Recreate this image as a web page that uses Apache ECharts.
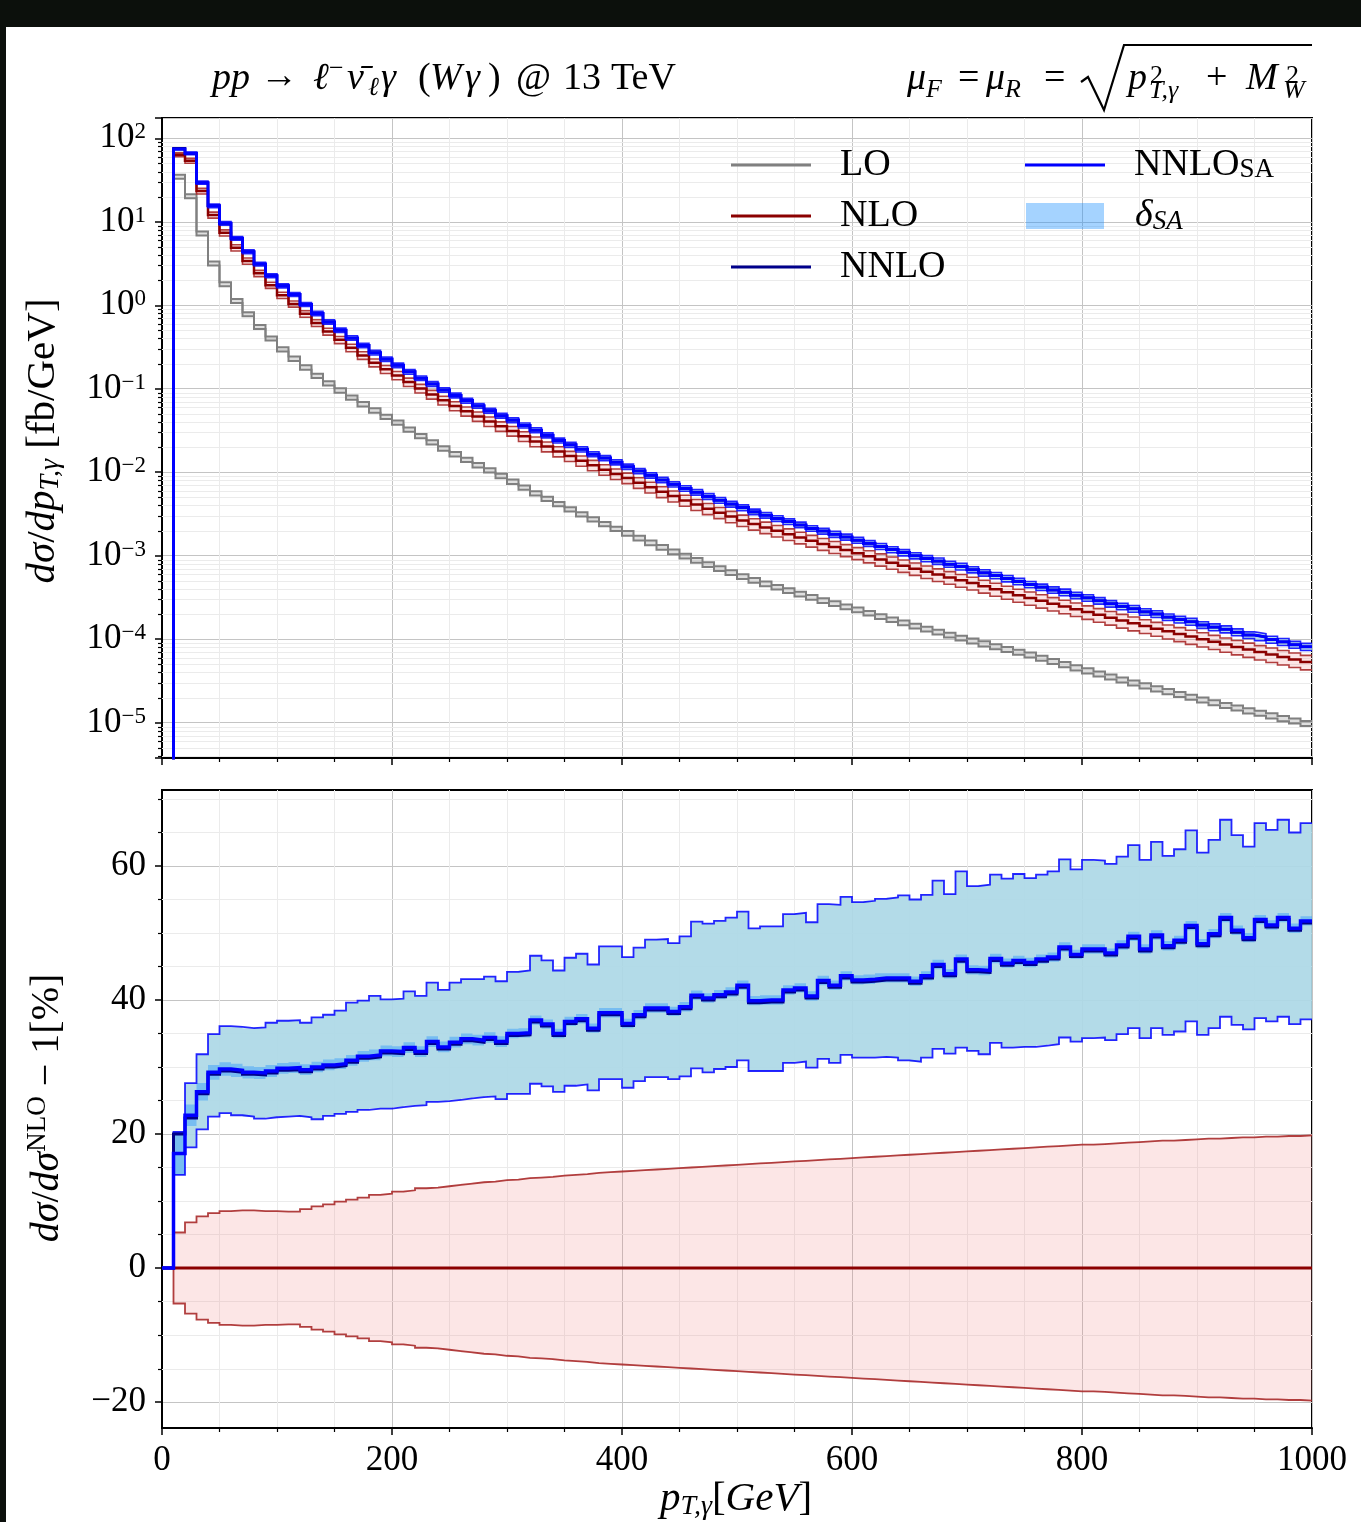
<!DOCTYPE html>
<html><head><meta charset="utf-8">
<script src="https://cdn.jsdelivr.net/npm/echarts@6/dist/echarts.min.js"></script>
<style>html,body{margin:0;padding:0;background:#fff;}#c{position:absolute;left:0;top:0;width:1361px;height:1522px;}</style>
</head><body><div id="c"></div><script>
// ---------------- DATA ----------------
const binEdges = [0,10,20,30,40,50,60,70,80,90,100,110,120,130,140,150,160,170,180,190,200,210,220,230,240,250,260,270,280,290,300,310,320,330,340,350,360,370,380,390,400,410,420,430,440,450,460,470,480,490,500,510,520,530,540,550,560,570,580,590,600,610,620,630,640,650,660,670,680,690,700,710,720,730,740,750,760,770,780,790,800,810,820,830,840,850,860,870,880,890,900,910,920,930,940,950,960,970,980,990,1000];

// NLO differential cross section per bin [fb/GeV]
const nloXsec = [
 0, 63.5, 53.8, 23.3, 12.05, 7.38, 4.89, 3.39, 2.41, 1.742,
 1.318, 1.038, 0.789, 0.614, 0.485, 0.385, 0.309, 0.251, 0.205, 0.171,
 0.1445, 0.1202, 0.1009, 0.0853, 0.0726, 0.0622, 0.0537, 0.0466, 0.0406, 0.0355,
 0.0312, 0.0269, 0.0233, 0.0203, 0.01774, 0.0156, 0.01374, 0.01213, 0.01074, 0.00955,
 0.00853, 0.0075, 0.00661, 0.00583, 0.00518, 0.0046, 0.0041, 0.00366, 0.00328, 0.00294,
 0.00265, 0.0024, 0.00218, 0.00199, 0.00181, 0.00165, 0.00151, 0.001384, 0.001271, 0.001167,
 0.001074, 0.000984, 0.000902, 0.000826, 0.00076, 0.0007, 0.000644, 0.000594, 0.00055, 0.000508,
 0.00047, 0.000432, 0.000397, 0.000366, 0.000337, 0.000311, 0.000288, 0.000266, 0.000247, 0.000229,
 0.000212, 0.000196, 0.000181, 0.000167, 0.000155, 0.000144, 0.0001337, 0.0001242, 0.0001156, 0.0001074,
 0.0001, 0.0000931, 0.0000865, 0.0000807, 0.0000752, 0.0000701, 0.0000655, 0.0000611, 0.0000571, 0.0000535];

// LO differential cross section per bin [fb/GeV]
const loXsec = [
 0, 34.7, 20.3, 7.26, 3.17, 1.79, 1.13, 0.782, 0.551, 0.400,
 0.297, 0.229, 0.180, 0.143, 0.116, 0.0955, 0.0785, 0.0653, 0.0550, 0.0462,
 0.0394, 0.0325, 0.0271, 0.0228, 0.0193, 0.01644, 0.01409, 0.01216, 0.01054, 0.00902,
 0.00771, 0.00656, 0.0056, 0.00481, 0.00415, 0.0036, 0.00313, 0.00273, 0.00239, 0.0021,
 0.00186, 0.00163, 0.00143, 0.00126, 0.001114, 0.000989, 0.000879, 0.000783, 0.0007, 0.000627,
 0.000562, 0.000509, 0.000461, 0.00042, 0.000382, 0.000348, 0.000318, 0.000291, 0.000267, 0.000245,
 0.000225, 0.000205, 0.000187, 0.0001714, 0.000157, 0.0001439, 0.0001324, 0.0001216, 0.0001119, 0.0001033,
 0.0000953, 0.0000881, 0.0000815, 0.0000755, 0.00007, 0.0000649, 0.0000593, 0.0000542, 0.0000497, 0.0000455,
 0.0000418, 0.0000384, 0.0000353, 0.0000325, 0.00003, 0.0000277, 0.0000255, 0.0000236, 0.0000218, 0.0000202,
 0.0000187, 0.0000174, 0.0000161, 0.000015, 0.0000139, 0.000013, 0.0000121, 0.0000112, 0.0000105, 0.0000098];

// LO scale band half width [%]
const loBand = [
 0, 5.5, 5.5, 5.5, 5.5, 5.5, 5.5, 5.5, 5.5, 5.5,
 6, 6, 6, 6, 6, 6, 6, 6, 6, 6,
 6, 6, 6, 6, 6, 6, 6, 6, 6, 6,
 6, 6, 6, 6, 6, 6, 6, 6, 6, 6,
 6.5, 6.5, 6.5, 6.5, 6.5, 6.5, 6.5, 6.5, 6.5, 6.5,
 6.5, 6.5, 6.5, 6.5, 6.5, 6.5, 6.5, 6.5, 6.5, 6.5,
 6.5, 6.5, 6.5, 6.5, 6.5, 6.5, 6.5, 6.5, 6.5, 6.5,
 7, 7, 7, 7, 7, 7, 7, 7, 7, 7,
 7, 7, 7, 7, 7, 7, 7, 7, 7, 7,
 7, 7, 7, 7, 7, 7, 7, 7, 7, 7];

// NLO scale band half width [%]
const nloBand = [
 0, 5.3, 6.8, 7.7, 8.2, 8.5, 8.6, 8.6, 8.5, 8.5,
 8.4, 8.4, 8.8, 9.2, 9.5, 9.9, 10.2, 10.5, 10.9, 11.1,
 11.4, 11.6, 11.9, 12.0, 12.2, 12.4, 12.6, 12.8, 12.9, 13.1,
 13.2, 13.4, 13.5, 13.6, 13.8, 13.9, 14.0, 14.2, 14.3, 14.4,
 14.5, 14.6, 14.7, 14.8, 14.9, 15.0, 15.1, 15.2, 15.3, 15.4,
 15.5, 15.6, 15.7, 15.8, 15.9, 16.0, 16.1, 16.2, 16.3, 16.4,
 16.5, 16.6, 16.7, 16.8, 16.9, 17.0, 17.1, 17.2, 17.3, 17.4,
 17.5, 17.6, 17.7, 17.8, 17.9, 18.0, 18.1, 18.2, 18.3, 18.4,
 18.4, 18.5, 18.6, 18.7, 18.8, 18.9, 19.0, 19.0, 19.1, 19.2,
 19.3, 19.3, 19.4, 19.5, 19.5, 19.6, 19.6, 19.7, 19.7, 19.8];

// NNLO_SA / NLO - 1 [%]
const nnloSAratio = [
 0, 17.1, 22.8, 26.3, 29.2, 29.7, 29.5, 29.2, 29.1, 29.4,
 29.8, 29.9, 29.6, 30.0, 30.3, 30.5, 31.0, 31.6, 31.8, 32.4,
 32.3, 32.9, 32.3, 33.8, 33.0, 33.7, 34.2, 34.0, 34.4, 33.8,
 35.0, 35.1, 37.0, 36.4, 35.0, 36.8, 37.2, 35.8, 38.1, 38.1,
 36.5, 37.8, 38.8, 38.8, 38.3, 39.0, 40.7, 40.3, 40.8, 41.2,
 42.2, 39.9, 40.0, 40.0, 41.5, 41.8, 40.6, 42.9, 42.2, 43.6,
 43.0, 43.1, 43.3, 43.3, 43.3, 42.8, 43.6, 45.3, 43.9, 46.1,
 44.5, 44.4, 46.2, 45.5, 45.9, 45.6, 46.1, 46.4, 47.9, 46.8,
 47.6, 47.6, 47.0, 48.2, 49.5, 47.6, 49.7, 48.1, 48.9, 51.1,
 48.4, 49.9, 52.3, 50.4, 49.3, 52.0, 51.2, 52.3, 50.7, 51.8];

// NNLO_SA scale band, upper edge [%]
const nnloSAup = [
 0, 20.3, 27.6, 31.9, 34.9, 36.1, 36.0, 35.8, 35.9, 36.6,
 36.9, 37.0, 36.6, 37.4, 37.8, 38.4, 39.6, 39.9, 40.6, 40.1,
 40.2, 41.3, 40.6, 42.6, 41.5, 42.6, 43.1, 43.1, 43.5, 42.8,
 44.2, 44.4, 46.6, 45.9, 44.4, 46.3, 46.9, 45.3, 48.0, 48.0,
 46.4, 47.8, 49.0, 49.1, 48.5, 49.5, 51.7, 51.4, 51.8, 52.3,
 53.2, 50.7, 51.0, 51.0, 52.8, 53.0, 51.6, 54.3, 54.2, 55.4,
 54.6, 54.8, 55.1, 55.3, 55.6, 55.0, 55.7, 57.8, 55.8, 59.2,
 57.0, 57.2, 58.7, 58.1, 58.8, 58.2, 58.7, 59.2, 61.0, 59.5,
 60.9, 60.8, 60.3, 61.4, 63.1, 60.9, 63.6, 61.5, 62.5, 65.3,
 62.0, 63.9, 66.9, 64.6, 62.9, 66.4, 65.4, 66.9, 65.0, 66.4];

// NNLO_SA scale band, lower edge [%]
const nnloSAdown = [
 0, 13.9, 18.0, 20.7, 22.6, 23.1, 22.8, 22.6, 22.3, 22.5,
 22.6, 22.7, 22.5, 22.2, 22.7, 23.0, 23.3, 23.6, 23.8, 23.8,
 24.0, 24.2, 24.3, 24.8, 24.9, 25.1, 25.3, 25.5, 25.6, 25.2,
 26.0, 26.0, 27.5, 27.1, 26.3, 27.2, 27.4, 26.5, 28.2, 28.2,
 26.9, 27.9, 28.5, 28.5, 28.2, 28.6, 29.8, 29.2, 29.7, 30.0,
 31.0, 29.4, 29.4, 29.4, 30.6, 30.8, 29.9, 31.2, 30.6, 31.8,
 31.4, 31.4, 31.5, 31.4, 31.0, 30.8, 31.4, 32.7, 32.0, 32.9,
 32.4, 31.9, 33.6, 32.9, 33.0, 33.0, 33.2, 33.4, 34.4, 33.8,
 34.3, 34.4, 34.0, 34.9, 35.8, 34.3, 35.8, 34.8, 35.3, 36.8,
 34.8, 35.8, 37.5, 36.3, 35.6, 37.3, 36.8, 37.5, 36.4, 37.1];

// NNLO / NLO - 1 [%]
const nnloRatio = [
 0, 20.0, 22.4, 26.0, 28.9, 29.4, 29.2, 28.9, 28.8, 29.1,
 29.5, 29.6, 29.3, 29.7, 30.0, 30.2, 30.7, 31.3, 31.5, 32.1,
 32.0, 32.6, 32.0, 33.5, 32.7, 33.4, 33.9, 33.7, 34.1, 33.5,
 34.7, 34.8, 36.7, 36.1, 34.7, 36.5, 36.9, 35.5, 37.8, 37.8,
 36.2, 37.5, 38.5, 38.5, 38.0, 38.7, 40.4, 40.0, 40.5, 40.9,
 41.9, 39.6, 39.7, 39.7, 41.2, 41.5, 40.3, 42.6, 41.9, 43.3,
 42.7, 42.8, 43.0, 43.0, 43.0, 42.5, 43.3, 45.0, 43.6, 45.8,
 44.2, 44.1, 45.9, 45.2, 45.6, 45.3, 45.8, 46.1, 47.6, 46.5,
 47.3, 47.3, 46.7, 47.9, 49.2, 47.3, 49.4, 47.8, 48.6, 50.8,
 48.1, 49.6, 52.0, 50.1, 49.0, 51.7, 50.9, 52.0, 50.4, 51.5];

// delta_SA half width [%]
const deltaSA = [
 0, 3.2, 1.6, 1.3, 1.1, 1.0, 1.0, 0.9, 0.9, 0.9,
 0.8, 0.8, 0.8, 0.8, 0.8, 0.8, 0.8, 0.8, 0.8, 0.8,
 0.8, 0.8, 0.8, 0.8, 0.8, 0.8, 0.8, 0.8, 0.8, 0.8,
 0.7, 0.7, 0.7, 0.7, 0.7, 0.7, 0.7, 0.7, 0.7, 0.7,
 0.7, 0.7, 0.7, 0.7, 0.7, 0.7, 0.7, 0.7, 0.7, 0.7,
 0.7, 0.7, 0.7, 0.7, 0.7, 0.7, 0.7, 0.7, 0.7, 0.7,
 0.7, 0.7, 0.7, 0.7, 0.7, 0.7, 0.7, 0.7, 0.7, 0.7,
 0.7, 0.7, 0.7, 0.7, 0.7, 0.7, 0.7, 0.7, 0.7, 0.7,
 0.7, 0.7, 0.7, 0.7, 0.7, 0.7, 0.7, 0.7, 0.7, 0.7,
 0.7, 0.7, 0.7, 0.7, 0.7, 0.7, 0.7, 0.7, 0.7, 0.7];

const xTicks = [0, 200, 400, 600, 800, 1000];
const ratioTicks = [-20, 0, 20, 40, 60];
const ratioMinorTicks = [-15, -10, -5, 5, 10, 15, 25, 30, 35, 45, 50, 55, 65, 70];
const logExponents = [-6, -5, -4, -3, -2, -1, 0, 1, 2];

// ---------------- DERIVED ----------------
const scale = (base, pct, sign) => base.map((v, i) => v * (1 + sign * pct[i] / 100));
const ofNlo = (pct) => nloXsec.map((v, i) => v * (1 + pct[i] / 100));
const loUp = scale(loXsec, loBand, 1), loDn = scale(loXsec, loBand, -1);
const nloUp = scale(nloXsec, nloBand, 1), nloDn = scale(nloXsec, nloBand, -1);
const saTop = ofNlo(nnloSAratio), saUpTop = ofNlo(nnloSAup), saDnTop = ofNlo(nnloSAdown);
const nnloTop = ofNlo(nnloRatio);
const zeroLine = nloXsec.map(() => 0);
const nloBandUp = nloBand.map(v => v), nloBandDn = nloBand.map(v => -v);
const dsaUp = nnloSAratio.map((v, i) => v + deltaSA[i]);
const dsaDn = nnloSAratio.map((v, i) => v - deltaSA[i]);

const LOG_MIN = Math.pow(10, -5.423), LOG_MAX = Math.pow(10, 2.243);
const R_MIN = -23.88, R_MAX = 71.34;
const logMinor = [];
logExponents.forEach(e => { for (let m = 2; m <= 9; m++) { const v = m * Math.pow(10, e); if (v > LOG_MIN && v < LOG_MAX) logMinor.push(v); } });

const FONT = 'Liberation Serif';
const safe = v => (v > 0 ? v : 1e-12);

function stepData(vals, isLog) {
  const d = vals.map((v, i) => [binEdges[i], isLog ? safe(v) : v]);
  d.push([binEdges[binEdges.length - 1], isLog ? safe(vals[vals.length - 1]) : vals[vals.length - 1]]);
  return d;
}
function lineS(name, ax, vals, color, width, z, opacity) {
  return { type: 'line', name, xAxisIndex: ax, yAxisIndex: ax, data: stepData(vals, ax === 0), step: 'end',
    symbol: 'none', showSymbol: false, silent: true, z, clip: true,
    lineStyle: { color, width, opacity: opacity == null ? 1 : opacity, join: 'miter' }, itemStyle: { color } };
}
function bandS(name, ax, lo, hi, fill, z) {
  const isLog = ax === 0;
  return { type: 'custom', name, xAxisIndex: ax, yAxisIndex: ax, z, silent: true,
    data: [[500, isLog ? 1 : 0]], itemStyle: { color: fill },
    renderItem(params, api) {
      const cs = params.coordSys, top = cs.y, bot = cs.y + cs.height;
      const cl = y => Math.min(bot, Math.max(top, y));
      const yv = v => cl(api.coord([500, isLog ? safe(v) : v])[1]);
      const up = [], dn = [];
      for (let i = 0; i < lo.length; i++) {
        const xa = api.coord([binEdges[i], isLog ? 1 : 0])[0], xb = api.coord([binEdges[i + 1], isLog ? 1 : 0])[0];
        const yh = yv(hi[i]), yl = yv(lo[i]);
        up.push([xa, yh], [xb, yh]); dn.push([xa, yl], [xb, yl]);
      }
      return { type: 'polygon', shape: { points: up.concat(dn.reverse()) }, style: { fill } };
    } };
}
function minorS(ax, values, isLog) {
  return { type: 'custom', xAxisIndex: ax, yAxisIndex: ax, z: 1, silent: true, data: [[500, isLog ? 1 : 0]],
    renderItem(params, api) {
      const cs = params.coordSys, children = [];
      values.forEach(v => {
        const y = Math.round(api.coord([500, v])[1]) + 0.5;
        children.push({ type: 'line', shape: { x1: cs.x, y1: y, x2: cs.x + cs.width, y2: y }, style: { stroke: '#ebebeb', lineWidth: 1 } });
        children.push({ type: 'line', shape: { x1: cs.x - 4, y1: y, x2: cs.x, y2: y }, style: { stroke: '#000', lineWidth: 1.2 } });
      });
      return { type: 'group', children };
    } };
}

const BLUE = '#0000ff', NAVY = '#00008b', DRED = '#8b0000', BROWN = '#a82a2a', GRAY = '#808080';
const PINK = 'rgba(240,128,128,0.2)', LBLUE = 'rgba(173,216,230,0.92)', DSA = 'rgba(30,144,255,0.4)', LGRAY = 'rgba(128,128,128,0.25)';

const xAxisBase = (show) => ({
  type: 'value', min: 0, max: 1000, interval: 200,
  axisLine: { show: true, onZero: false, lineStyle: { color: '#000', width: 2 } },
  axisTick: { show: true, inside: false, length: 7, lineStyle: { color: '#000', width: 1.5 } },
  minorTick: { show: true, splitNumber: 4, length: 4, lineStyle: { color: '#000', width: 1.2 } },
  splitLine: { show: true, lineStyle: { color: '#c4c4c4', width: 1 } },
  minorSplitLine: { show: true, lineStyle: { color: '#ebebeb', width: 1 } },
  axisLabel: { show, fontFamily: FONT, fontSize: 35, color: '#000', margin: 15, formatter: v => String(v) }
});

// text helper for the math titles
function txt(x, cy, s, size, italic, extra) {
  return Object.assign({ type: 'text', x, y: cy, z: 50, silent: true,
    style: { text: s, fontFamily: FONT, fontSize: size, fontStyle: italic ? 'italic' : 'normal', fill: '#000', verticalAlign: 'middle' } }, extra || {});
}
const BASE = 38, SCR = 26, CY = 79;

const option = {
  animation: false,
  backgroundColor: '#fff',
  grid: [
    { left: 162, top: 118, width: 1150, height: 640, show: true, borderColor: '#000', borderWidth: 2 },
    { left: 162, top: 790, width: 1150, height: 638, show: true, borderColor: '#000', borderWidth: 2 }
  ],
  xAxis: [ Object.assign({ gridIndex: 0 }, xAxisBase(false)), Object.assign({ gridIndex: 1 }, xAxisBase(true)) ],
  yAxis: [
    { gridIndex: 0, type: 'log', logBase: 10, min: LOG_MIN, max: LOG_MAX,
      axisLine: { show: true, onZero: false, lineStyle: { color: '#000', width: 2 } },
      axisTick: { show: true, inside: false, length: 7, lineStyle: { color: '#000', width: 1.5 } },
      splitLine: { show: true, lineStyle: { color: '#c4c4c4', width: 1 } },
      axisLabel: { fontFamily: FONT, fontSize: 35, color: '#000', margin: 16,
        formatter: v => { const e = Math.log10(v), r = Math.round(e); if (Math.abs(e - r) > 1e-3) return ''; return '{b|10}{s|' + (r < 0 ? '\u2212' + (-r) : r) + '}'; },
        rich: { b: { fontFamily: FONT, fontSize: 35, color: '#000' }, s: { fontFamily: FONT, fontSize: 23, color: '#000', padding: [0, 0, 12, 0] } } } },
    { gridIndex: 1, type: 'value', min: R_MIN, max: R_MAX,
      axisLine: { show: true, onZero: false, lineStyle: { color: '#000', width: 2 } },
      axisTick: { show: true, inside: false, length: 7, customValues: ratioTicks, lineStyle: { color: '#000', width: 1.5 } },
      splitLine: { show: true, lineStyle: { color: '#c4c4c4', width: 1 } },
      axisLabel: { fontFamily: FONT, fontSize: 35, color: '#000', margin: 16, customValues: ratioTicks,
        formatter: v => (v < 0 ? '\u2212' + (-v) : '' + v) } }
  ],
  legend: [
    { data: [{ name: 'LO', itemStyle: { color: GRAY } }, { name: 'NLO', itemStyle: { color: DRED } }, { name: 'NNLO', itemStyle: { color: NAVY } }],
      orient: 'vertical', left: 726, top: 140, itemWidth: 80, itemHeight: 3, itemGap: 11, icon: 'rect',
      textStyle: { fontFamily: FONT, fontSize: 38, color: '#000', lineHeight: 40, padding: [0, 0, 0, 24] } },
    { data: [{ name: 'NNLO_SA', itemStyle: { color: BLUE } }], orient: 'vertical', left: 1020, top: 140,
      itemWidth: 80, itemHeight: 3, icon: 'rect',
      formatter: () => '{b|NNLO}{s|SA}',
      textStyle: { fontFamily: FONT, fontSize: 38, color: '#000', lineHeight: 40, padding: [0, 0, 0, 24],
        rich: { b: { fontFamily: FONT, fontSize: 38, color: '#000' }, s: { fontFamily: FONT, fontSize: 27, color: '#000', padding: [10, 0, 0, 0] } } } },
    { data: [{ name: 'dSA', itemStyle: { color: DSA } }], orient: 'vertical', left: 1021, top: 191,
      itemWidth: 78, itemHeight: 26, icon: 'rect',
      formatter: () => '{d|\u03b4}{s|SA}',
      textStyle: { fontFamily: FONT, fontSize: 38, color: '#000', lineHeight: 40, padding: [0, 0, 0, 26],
        rich: { d: { fontFamily: FONT, fontSize: 38, fontStyle: 'italic', color: '#000' }, s: { fontFamily: FONT, fontSize: 27, fontStyle: 'italic', color: '#000', padding: [12, 0, 0, 0] } } } }
  ],
  series: [
    minorS(0, logMinor, true),
    minorS(1, ratioMinorTicks, false),
    // ---- top panel ----
    lineS('LO', 0, loUp, GRAY, 2, 3),
    lineS('LO', 0, loDn, GRAY, 2, 3),
    bandS('LO', 0, loDn, loUp, LGRAY, 2),
    lineS('NLO', 0, nloXsec, DRED, 2.5, 6),
    bandS('NLO', 0, nloDn, nloUp, PINK, 4),
    lineS('NLO', 0, nloUp, BROWN, 1.6, 5, 0.9),
    lineS('NLO', 0, nloDn, BROWN, 1.6, 5, 0.9),
    lineS('NNLO', 0, nnloTop, NAVY, 2.5, 9),
    lineS('NNLO_SA', 0, saTop, BLUE, 3, 10),
    bandS('NNLO_SA', 0, saDnTop, saUpTop, LBLUE, 7),
    lineS('NNLO_SA', 0, saUpTop, BLUE, 1.6, 8, 0.85),
    lineS('NNLO_SA', 0, saDnTop, BLUE, 1.6, 8, 0.85),
    // ---- bottom panel ----
    lineS('NLO', 1, zeroLine, DRED, 2.8, 4),
    bandS('NLO', 1, nloBandDn, nloBandUp, PINK, 2),
    lineS('NLO', 1, nloBandUp, BROWN, 1.8, 3, 0.9),
    lineS('NLO', 1, nloBandDn, BROWN, 1.8, 3, 0.9),
    bandS('NNLO_SA', 1, nnloSAdown, nnloSAup, LBLUE, 5),
    bandS('dSA', 1, dsaDn, dsaUp, DSA, 6),
    lineS('NNLO_SA', 1, nnloSAup, BLUE, 1.8, 7, 0.85),
    lineS('NNLO_SA', 1, nnloSAdown, BLUE, 1.8, 7, 0.85),
    lineS('NNLO', 1, nnloRatio, NAVY, 3, 8),
    lineS('NNLO_SA', 1, nnloSAratio, BLUE, 3.5, 9)
  ],
  graphic: [
    { type: 'rect', left: 0, top: 0, shape: { width: 1361, height: 27 }, style: { fill: '#0c100c' }, z: 100 },
    { type: 'rect', left: 0, top: 0, shape: { width: 6, height: 1522 }, style: { fill: '#0c100c' }, z: 100 },
    // left title: pp -> l- nubar_l gamma (W gamma) @ 13 TeV
    txt(212, CY, 'pp', BASE, true),
    txt(260, CY - 2, '\u2192', BASE, false),
    txt(313, CY, '\u2113', BASE, true),
    txt(329, CY - 10, '\u2212', SCR, false),
    txt(347, CY, '\u03bd\u0304', BASE, true),
    txt(368, CY + 9, '\u2113', SCR, true),
    txt(381, CY, '\u03b3', BASE, true),
    txt(418, CY, '(', BASE, false),
    txt(430, CY, 'W', BASE, true),
    txt(465, CY, '\u03b3', BASE, true),
    txt(488, CY, ')', BASE, false),
    txt(516, CY, '@', BASE, false),
    txt(563, CY, '13', BASE, false),
    txt(611, CY, 'TeV', BASE, false),
    // right title: mu_F = mu_R = sqrt(p^2_{T,gamma} + M^2_W)
    txt(907, CY, '\u03bc', BASE, true),
    txt(926, CY + 11, 'F', SCR, true),
    txt(958, CY, '=', BASE, false),
    txt(986, CY, '\u03bc', BASE, true),
    txt(1005, CY + 11, 'R', SCR, true),
    txt(1044, CY, '=', BASE, false),
    { type: 'polyline', z: 50, silent: true, shape: { points: [[1081, 82], [1088, 77], [1104, 110], [1124, 45], [1312, 45]] }, style: { stroke: '#000', lineWidth: 2.2, fill: null } },
    txt(1128, CY, 'p', BASE, true),
    txt(1150, 76, '2', SCR, false),
    txt(1149, 91, 'T,\u03b3', SCR, true),
    txt(1206, CY, '+', BASE, false),
    txt(1246, CY, 'M', BASE, true),
    txt(1286, 76, '2', SCR, false),
    txt(1283, 91, 'W', SCR, true),
    // axis titles
    { type: 'text', x: 43, y: 441, rotation: Math.PI / 2, z: 50, style: { text: '{i|d\u03c3}/{i|dp}{b|T,\u03b3} [fb/GeV]',
      fontFamily: FONT, fontSize: 41, fill: '#000', align: 'center', verticalAlign: 'middle',
      rich: { i: { fontFamily: FONT, fontSize: 41, fontStyle: 'italic' }, b: { fontFamily: FONT, fontSize: 28, fontStyle: 'italic', padding: [16, 0, 0, 0] } } } },
    { type: 'text', x: 47, y: 1108, rotation: Math.PI / 2, z: 50, style: { text: '{i|d\u03c3}/{i|d\u03c3}{p|NLO} \u2212 1[%]',
      fontFamily: FONT, fontSize: 40, fill: '#000', align: 'center', verticalAlign: 'middle',
      rich: { i: { fontFamily: FONT, fontSize: 40, fontStyle: 'italic' }, p: { fontFamily: FONT, fontSize: 27, padding: [0, 0, 18, 0] } } } },
    { type: 'text', x: 736, y: 1499, z: 50, style: { text: '{i|p}{b|T,\u03b3}[{i|GeV}]',
      fontFamily: FONT, fontSize: 41, fill: '#000', align: 'center', verticalAlign: 'middle',
      rich: { i: { fontFamily: FONT, fontSize: 41, fontStyle: 'italic' }, b: { fontFamily: FONT, fontSize: 28, fontStyle: 'italic', padding: [16, 0, 0, 0] } } } }
  ]
};
const chart = echarts.init(document.getElementById('c'));
chart.setOption(option);
</script></body></html>
